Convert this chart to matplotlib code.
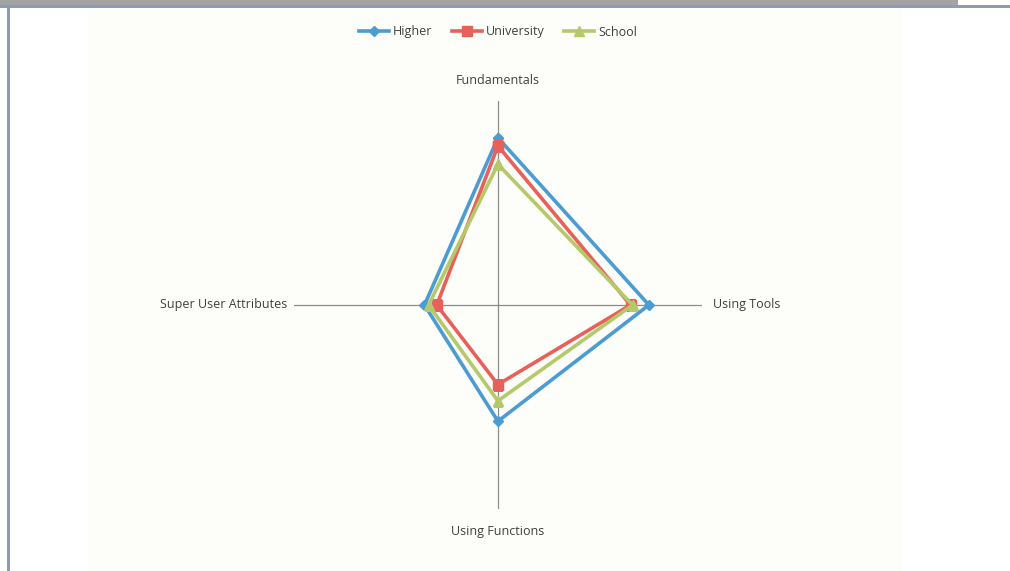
import numpy as np
import matplotlib
matplotlib.use("Agg")
import matplotlib.pyplot as plt
from matplotlib.patches import Rectangle

# axes labels and values (scale 0..1)
categories = ["Fundamentals", "Using Tools", "Using Functions", "Super User Attributes"]
higher = [0.82, 0.74, 0.57, 0.36]
university = [0.78, 0.65, 0.39, 0.30]
school = [0.69, 0.66, 0.47, 0.34]

plt.rcParams['font.family'] = ['Open Sans', 'DejaVu Sans']

fig = plt.figure(figsize=(10.1, 5.71), dpi=100)
fig.patch.set_facecolor("white")

# window chrome: grey band at top, blue-grey border lines (behind the axes)
bg = dict(transform=fig.transFigure, edgecolor="none", zorder=-10)
fig.add_artist(Rectangle((0, 1 - 5 / 571), 958 / 1010, 5 / 571, facecolor="#a3a3a3", **bg))
fig.add_artist(Rectangle((0, 1 - 8 / 571), 1, 3 / 571, facecolor="#8e9bb5", **bg))
fig.add_artist(Rectangle((7 / 1010, 0), 3 / 1010, 1 - 5 / 571, facecolor="#8e9bb5", **bg))
# chart area with off-white fill
fig.add_artist(Rectangle((88 / 1010, 0), (902 - 88) / 1010, 1 - 8 / 571,
                         facecolor="#fdfdf9", **bg))

ax = fig.add_axes([0.291, 0.1086, 0.404, 0.7145], projection="polar")
ax.set_facecolor("none")
ax.set_theta_offset(np.pi / 2)
ax.set_theta_direction(-1)

angles = np.arange(len(categories)) * 2 * np.pi / len(categories)
closed = np.append(angles, angles[0])

series = [("Higher", higher, "#4b9cd3", "D", 5.5),
          ("University", university, "#e8605a", "s", 7),
          ("School", school, "#b5c96a", "^", 7)]
for name, vals, col, mk, ms in series:
    ax.plot(closed, vals + vals[:1], color=col, lw=2.6, marker=mk, ms=ms,
            markeredgecolor=col, label=name, zorder=3)

ax.set_ylim(0, 1)
ax.set_yticks([])
ax.set_xticks(angles)
ax.set_xticklabels([])
ax.grid(True, color="#8c8c8c", lw=0.9)
ax.spines["polar"].set_visible(False)

# category labels at axis ends
txt = dict(fontsize=9, color="#404040")
ax.text(angles[0], 1.1, categories[0], ha="center", va="center", **txt)
ax.text(angles[1], 1.055, categories[1], ha="left", va="center", **txt)
ax.text(angles[2], 1.11, categories[2], ha="center", va="center", **txt)
ax.text(angles[3], 1.035, categories[3], ha="right", va="center", **txt)

fig.legend(loc="center", bbox_to_anchor=(0.493, 1 - 32 / 571), ncol=3, frameon=False,
           fontsize=9, handlelength=2.4, handletextpad=0.3, columnspacing=1.6,
           labelcolor="#404040")

fig.savefig("out.png", dpi=100, facecolor=fig.get_facecolor())
